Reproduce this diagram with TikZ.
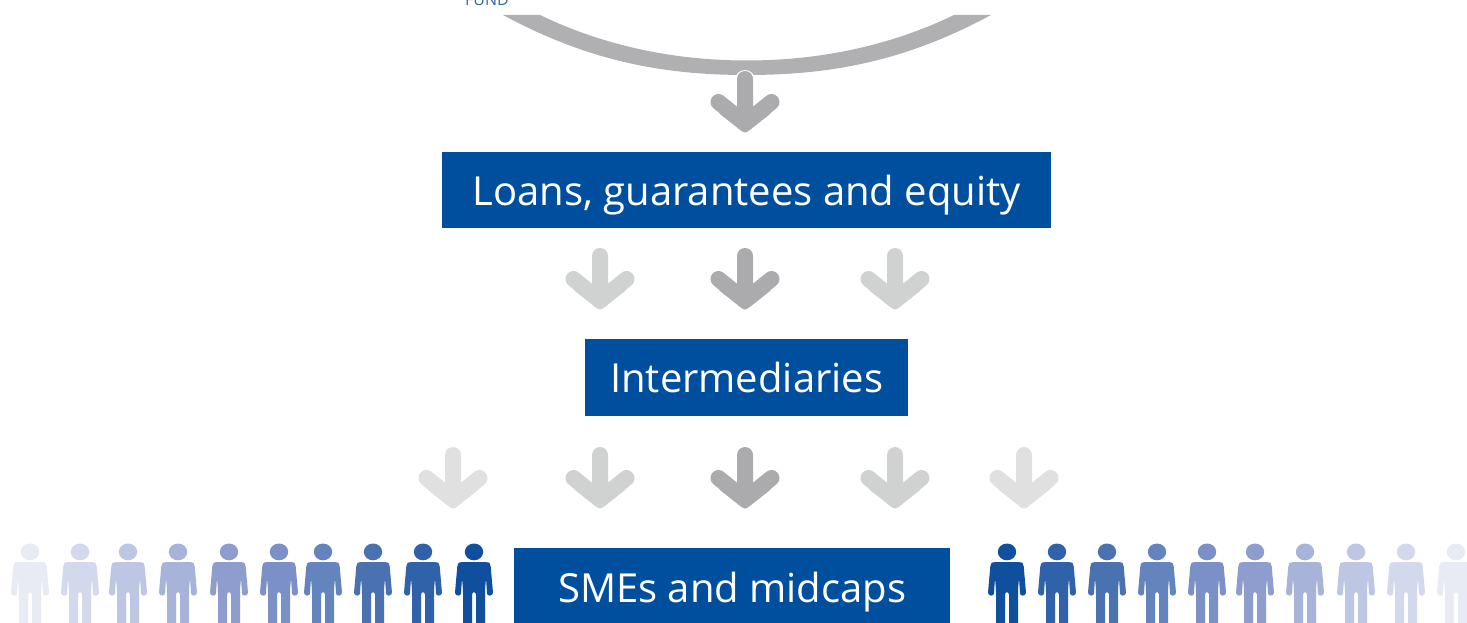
\documentclass[tikz,border=0pt]{standalone}
\usepackage{fontspec}
\setmainfont{Open Sans}
\definecolor{eib}{HTML}{004F9F}
\definecolor{fundc}{HTML}{2A6A9F}
\definecolor{bandc}{HTML}{B0B0B2}
\definecolor{ga}{HTML}{E0E0E0}
\definecolor{gb}{HTML}{D0D1D1}
\definecolor{gc}{HTML}{ABABAD}
\definecolor{p0}{HTML}{E8EAF4}
\definecolor{p1}{HTML}{D3D9EC}
\definecolor{p2}{HTML}{BDC6E2}
\definecolor{p3}{HTML}{A7B3D8}
\definecolor{p4}{HTML}{8E9DCE}
\definecolor{p5}{HTML}{7A90C6}
\definecolor{p6}{HTML}{6484BD}
\definecolor{p7}{HTML}{4A72B0}
\definecolor{p8}{HTML}{2F62A8}
\definecolor{p9}{HTML}{0F4F9E}
\tikzset{
  bluebox/.style={fill=eib,text=white,anchor=north west,inner sep=0pt,align=center,
    text height=30pt,text depth=0pt,font=\fontsize{40}{40}\selectfont},
  downarrow/.pic={
    \draw[line width=16pt,line cap=round,line join=round,pic actions]
      (0,8) -- (0,52.5) (-26.5,31) -- (0,52.5) -- (26.5,31);
    \draw[line width=8pt,line cap=round,line join=round,pic actions]
      (-22.4,40) -- (0,57.5) -- (22.4,40);
  },
  person/.pic={
    \fill[pic actions] (0,551.9) ellipse[x radius=9.2,y radius=8.4];
    \fill[rounded corners=2.6pt,pic actions]
      (-14,562) -- (14,562) -- (16.5,564) -- (19.2,595) -- (13.2,596) -- (12,578)
      -- (11,590) -- (11,632) -- (2,632) -- (2,592) -- (-2,592) -- (-2,632)
      -- (-11,632) -- (-11,590) -- (-12,578) -- (-13.2,596) -- (-19.2,595) -- (-16.5,564) -- cycle;
  }
}
\begin{document}
\begin{tikzpicture}[x=1pt,y=-1pt]
\useasboundingbox (0,0) rectangle (1467,623);
\clip (0,0) rectangle (1467,623);
\fill[white] (0,0) rectangle (1467,623);

\node[text=fundc,font=\fontsize{16}{16}\selectfont,anchor=base] (fund) at (487,6) {FUND};

\fill[bandc] (503,15) .. controls (590,62) and (665,75) .. (747,75)
  .. controls (829,75) and (904,62) .. (991,15) -- (954,15)
  .. controls (894,44) and (824,60.5) .. (747,60.5)
  .. controls (670,60.5) and (600,44) .. (540,15) -- cycle;

\draw[white,line width=20pt,line cap=round] (745,80) -- (745,100);
\pic[draw=gc] at (745,71) {downarrow};

\node[bluebox,minimum width=609pt,minimum height=76pt] (loans) at (442,152)
  {Loans, guarantees and equity};
\node[bluebox,minimum width=323pt,minimum height=77pt] (inter) at (585,339)
  {Intermediaries};
\node[bluebox,minimum width=436pt,minimum height=78pt] (smes) at (514,548)
  {SMEs and midcaps};

\foreach \x/\c in {600/gb,745/gc,895/gb}
  \pic[draw=\c] at (\x,248) {downarrow};
\foreach \x/\c in {453/ga,600/gb,745/gc,895/gb,1024/ga}
  \pic[draw=\c] at (\x,447) {downarrow};

\foreach \x/\c in {30/p0,80/p1,128/p2,178/p3,229/p4,279/p5,323/p6,373/p7,423/p8,474/p9,
  1007/p9,1057/p8,1107/p7,1157/p6,1207/p5,1255/p4,1305/p3,1356/p2,1406/p1,1456/p0}
  \pic[fill=\c] at (\x,0) {person};
\end{tikzpicture}
\end{document}
